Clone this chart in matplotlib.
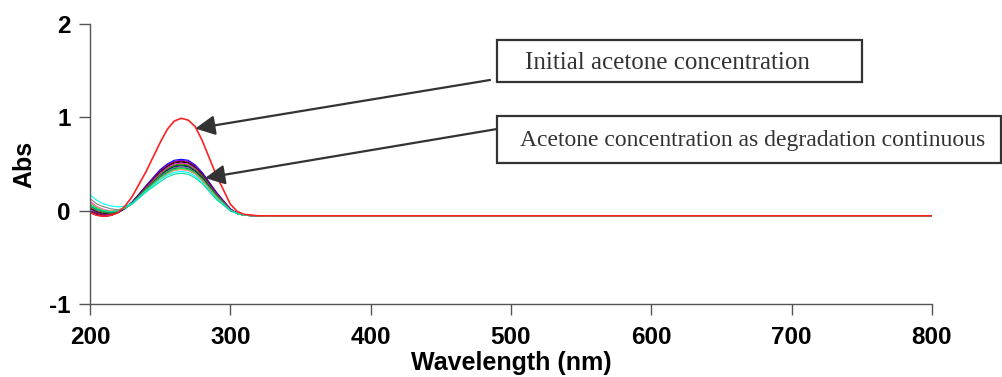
import matplotlib
matplotlib.use("Agg")
import matplotlib.pyplot as plt
from matplotlib.patches import Rectangle

# ── Data ──────────────────────────────────────────────
wavelength = [200, 205, 210, 215, 220, 225, 230, 240, 250, 255, 260,
              265, 270, 275, 280, 290, 300, 305, 310, 320, 800]

abs_initial = [-0.02, -0.05, -0.06, -0.05, -0.02, 0.05, 0.15, 0.42, 0.73, 0.87, 0.96,
               0.99, 0.97, 0.90, 0.75, 0.38, 0.07, -0.01, -0.04, -0.055, -0.055]

# spectra recorded while the acetone degrades
abs_runs = [
    [-0.01, -0.04, -0.06, -0.05, -0.02, 0.03, 0.09, 0.27, 0.44, 0.50, 0.54, 0.55, 0.54, 0.49, 0.41, 0.20, 0.02, -0.03, -0.05, -0.055, -0.055],
    [0.02, -0.02, -0.04, -0.04, -0.02, 0.03, 0.09, 0.26, 0.43, 0.49, 0.53, 0.54, 0.53, 0.48, 0.40, 0.19, 0.02, -0.03, -0.05, -0.055, -0.055],
    [0.00, -0.03, -0.05, -0.05, -0.02, 0.03, 0.09, 0.26, 0.42, 0.48, 0.52, 0.53, 0.52, 0.47, 0.39, 0.19, 0.01, -0.03, -0.05, -0.055, -0.055],
    [0.03, -0.01, -0.03, -0.03, -0.01, 0.03, 0.09, 0.25, 0.41, 0.47, 0.51, 0.52, 0.51, 0.46, 0.38, 0.18, 0.01, -0.03, -0.05, -0.055, -0.055],
    [0.10, 0.04, 0.01, -0.01, -0.01, 0.03, 0.08, 0.25, 0.40, 0.46, 0.50, 0.51, 0.50, 0.45, 0.37, 0.18, 0.01, -0.03, -0.05, -0.055, -0.055],
    [0.04, 0.00, -0.02, -0.03, -0.01, 0.03, 0.08, 0.24, 0.39, 0.45, 0.49, 0.50, 0.49, 0.44, 0.37, 0.17, 0.01, -0.03, -0.05, -0.055, -0.055],
    [0.06, 0.02, -0.01, -0.02, -0.01, 0.03, 0.08, 0.24, 0.38, 0.44, 0.48, 0.49, 0.48, 0.43, 0.36, 0.17, 0.01, -0.03, -0.05, -0.055, -0.055],
    [-0.02, -0.05, -0.06, -0.05, -0.02, 0.02, 0.08, 0.23, 0.37, 0.43, 0.47, 0.48, 0.47, 0.42, 0.35, 0.16, 0.01, -0.03, -0.05, -0.055, -0.055],
    [0.13, 0.07, 0.04, 0.02, 0.01, 0.03, 0.08, 0.23, 0.37, 0.42, 0.46, 0.47, 0.46, 0.41, 0.34, 0.16, 0.01, -0.03, -0.05, -0.055, -0.055],
    [0.05, 0.01, -0.01, -0.02, -0.01, 0.03, 0.08, 0.22, 0.36, 0.41, 0.45, 0.46, 0.45, 0.40, 0.33, 0.15, 0.00, -0.03, -0.05, -0.055, -0.055],
    [0.08, 0.03, 0.00, -0.01, 0.00, 0.03, 0.07, 0.22, 0.35, 0.40, 0.44, 0.45, 0.44, 0.40, 0.33, 0.15, 0.00, -0.03, -0.05, -0.055, -0.055],
    [0.09, 0.04, 0.01, 0.00, 0.00, 0.03, 0.07, 0.21, 0.34, 0.39, 0.43, 0.44, 0.43, 0.39, 0.32, 0.14, 0.00, -0.03, -0.05, -0.055, -0.055],
    [0.17, 0.11, 0.07, 0.05, 0.04, 0.05, 0.08, 0.21, 0.33, 0.38, 0.41, 0.42, 0.41, 0.37, 0.30, 0.13, 0.00, -0.03, -0.05, -0.055, -0.055],
    [0.06, 0.02, 0.00, -0.01, 0.00, 0.03, 0.07, 0.20, 0.31, 0.36, 0.39, 0.40, 0.39, 0.35, 0.29, 0.12, 0.00, -0.03, -0.05, -0.055, -0.055],
]
run_colors = ["#0000ff", "#8000ff", "#800000", "#000000", "#ff00ff", "#808000", "#008000",
              "#000080", "#808080", "#008080", "#00ff00", "#ff8080", "#00ffff", "#00e0a0"]

x_ticks = [200, 300, 400, 500, 600, 700, 800]
y_ticks = [-1, 0, 1, 2]

label_top = "Initial acetone concentration"
label_bottom = "Acetone concentration as degradation continuous"

# ── Figure ─────────────────────────────────
plt.rcParams["font.family"] = "Liberation Sans"
plt.rcParams["font.weight"] = "bold"
plt.rcParams["axes.unicode_minus"] = False

W, H = 1003, 377
fig = plt.figure(figsize=(W / 100, H / 100), dpi=100)
ax = fig.add_axes([90 / W, 1 - 304 / H, (932 - 90) / W, (304 - 24) / H])

for vals, col in zip(abs_runs, run_colors):
    ax.plot(wavelength, vals, color=col, lw=0.8)
ax.plot(wavelength, abs_initial, color="#ff2020", lw=1.2)

ax.set_xlim(200, 800)
ax.set_ylim(-1, 2)
ax.set_xticks(x_ticks)
ax.set_yticks(y_ticks)
ax.tick_params(direction="out", length=8, width=1, color="#555555", labelsize=17.5, pad=6)
ax.tick_params(axis="x", pad=8)
for side in ["top", "right"]:
    ax.spines[side].set_visible(False)
for side in ["left", "bottom"]:
    ax.spines[side].set_color("#555555")
    ax.spines[side].set_linewidth(1)

ax.set_xlabel("Wavelength (nm)", fontsize=18, fontweight="bold", labelpad=1)
ax.set_ylabel("Abs", fontsize=18, fontweight="bold", labelpad=9)

# ── Annotation boxes ───────────────────────
def box(x0, y0, x1, y1):
    fig.add_artist(Rectangle((x0 / W, 1 - y1 / H), (x1 - x0) / W, (y1 - y0) / H,
                             transform=fig.transFigure, fill=False,
                             edgecolor="#333333", lw=1.6))

box(497, 40, 862, 82)
box(497, 116, 1001, 163)
fig.text(525 / W, 1 - 63 / H, label_top, family="Liberation Serif", weight="normal",
         fontsize=18, color="#333333", va="center", ha="left")
fig.text(520 / W, 1 - 140 / H, label_bottom, family="Liberation Serif", weight="normal",
         fontsize=17, color="#333333", va="center", ha="left")

arrow = dict(arrowstyle="-|>,head_length=0.6,head_width=0.3", mutation_scale=20,
             color="#333333", lw=1.6, shrinkA=0, shrinkB=0)
ax.annotate("", xy=(275, 0.88), xycoords="data",
            xytext=(490 / W, 1 - 80 / H), textcoords="figure fraction", arrowprops=arrow)
ax.annotate("", xy=(282, 0.35), xycoords="data",
            xytext=(497 / W, 1 - 129 / H), textcoords="figure fraction", arrowprops=arrow)

fig.savefig("out.png", dpi=100)
